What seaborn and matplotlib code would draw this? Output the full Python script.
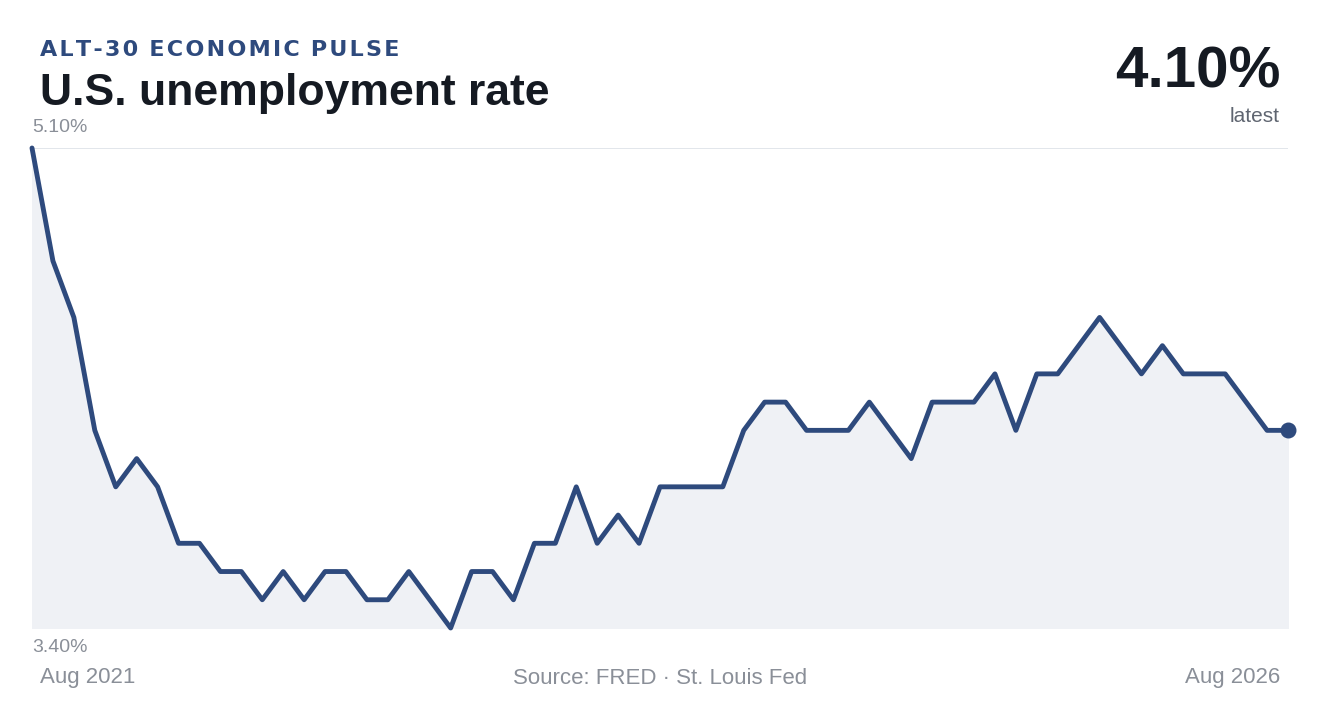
import matplotlib
matplotlib.use("Agg")
import matplotlib.pyplot as plt
import seaborn as sns
import pandas as pd

# monthly unemployment rate, Aug 2021 .. Aug 2026
rates = [5.1, 4.7, 4.5, 4.1, 3.9, 4.0, 3.9, 3.7, 3.7, 3.6,
         3.6, 3.5, 3.6, 3.5, 3.6, 3.6, 3.5, 3.5, 3.6, 3.5,
         3.4, 3.6, 3.6, 3.5, 3.7, 3.7, 3.9, 3.7, 3.8, 3.7,
         3.9, 3.9, 3.9, 3.9, 4.1, 4.2, 4.2, 4.1, 4.1, 4.1,
         4.2, 4.1, 4.0, 4.2, 4.2, 4.2, 4.3, 4.1, 4.3, 4.3,
         4.4, 4.5, 4.4, 4.3, 4.4, 4.3, 4.3, 4.3, 4.2, 4.1, 4.1]
df = pd.DataFrame({"month": range(len(rates)), "rate": rates})

sns.set_theme(style="white")
plt.rcParams['font.family'] = ['Liberation Sans', 'DejaVu Sans']

LINE = "#2e4a7d"
fig = plt.figure(figsize=(13.2, 7.2), dpi=100)
ax = fig.add_axes([32 / 1320, 1 - 628 / 720, 1256 / 1320, 480 / 720])

ax.fill_between(df["month"], df["rate"], 3.4, color="#eff1f5", zorder=1)
sns.lineplot(data=df, x="month", y="rate", ax=ax, color=LINE, linewidth=3.5, zorder=3)
for ln in ax.lines:
    ln.set_clip_on(False)
ax.scatter([df["month"].iloc[-1]], [df["rate"].iloc[-1]], s=110, color=LINE, zorder=4, clip_on=False)

lo, hi = min(rates), max(rates)
ax.set_xlim(0, len(rates) - 1)
ax.set_ylim(lo, hi)
for v in (lo, hi):
    ax.axhline(v, color="#dde1e7", linewidth=1.2, zorder=0)
ax.set_axis_off()

gray = "#8a8f98"
fig.text(32 / 1320, 1 - 128 / 720, f"{hi:.2f}%", color=gray, fontsize=14, va="center")
fig.text(32 / 1320, 1 - 648 / 720, f"{lo:.2f}%", color=gray, fontsize=14, va="center")
fig.text(40 / 1320, 1 - 678 / 720, "Aug 2021", color=gray, fontsize=16, va="center")
fig.text(1280 / 1320, 1 - 678 / 720, "Aug 2026", color=gray, fontsize=16, va="center", ha="right")
fig.text(660 / 1320, 1 - 678 / 720, "Source: FRED · St. Louis Fed", color=gray, fontsize=16, va="center", ha="center")

fig.text(40 / 1320, 1 - 50 / 720, "A\u200aL\u200aT\u200a-\u200a3\u200a0\u2002E\u200aC\u200aO\u200aN\u200aO\u200aM\u200aI\u200aC\u2002P\u200aU\u200aL\u200aS\u200aE",
         color=LINE, fontsize=16, fontweight="bold", va="center", fontfamily="DejaVu Sans")
fig.text(40 / 1320, 1 - 93 / 720, "U.S. unemployment rate", color="#151a22", fontsize=32,
         fontweight="bold", va="center")
fig.text(1280 / 1320, 1 - 72 / 720, f"{rates[-1]:.2f}%", color="#151a22", fontsize=42,
         fontweight="bold", va="center", ha="right")
fig.text(1280 / 1320, 1 - 117 / 720, "latest", color="#5f6570", fontsize=15, va="center", ha="right")

fig.savefig("out.png", dpi=100)
